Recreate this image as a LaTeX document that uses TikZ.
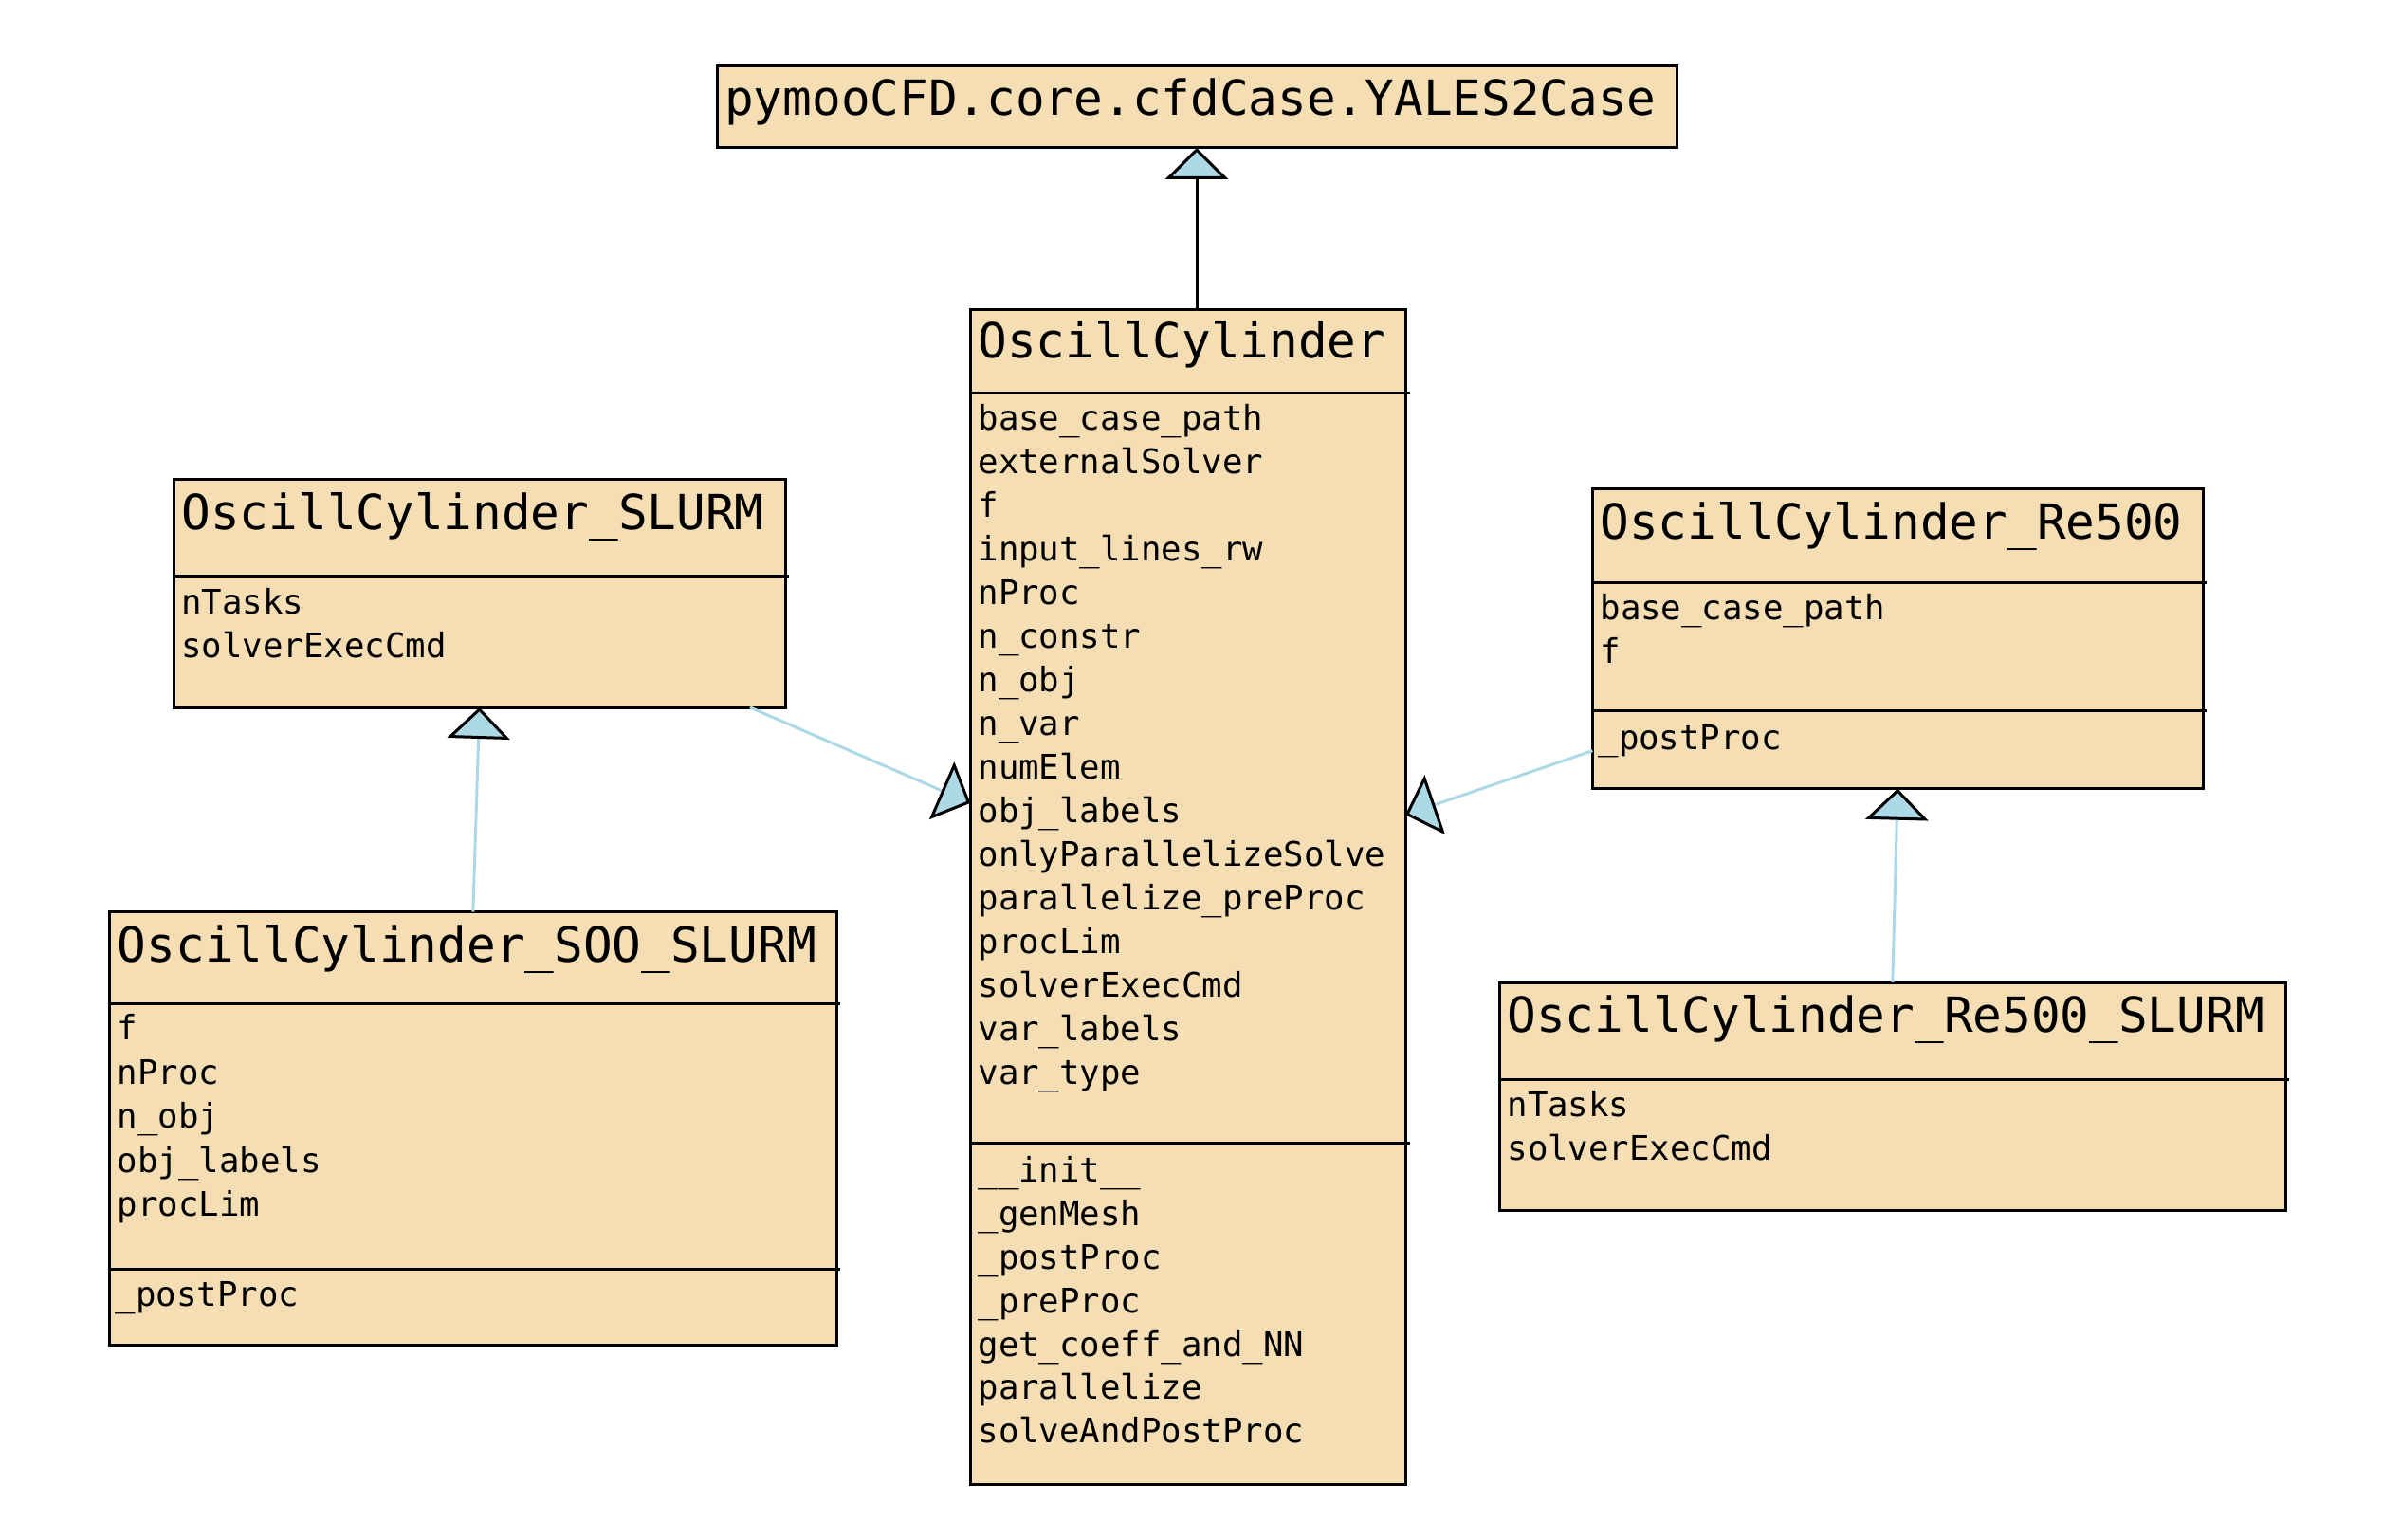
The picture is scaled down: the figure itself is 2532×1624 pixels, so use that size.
\documentclass[tikz,border=0pt]{standalone}
\usepackage{fontspec}
\setmonofont{DejaVu Sans Mono}
\usetikzlibrary{arrows.meta,calc}
\definecolor{wheatc}{HTML}{F5DEB3}
\definecolor{lblue}{HTML}{ADD8E6}
\begin{document}
\begin{tikzpicture}[x=1pt,y=-1pt,
  box/.style={draw=black, fill=wheatc, line width=3pt, rectangle, inner sep=0pt, outer sep=0pt, anchor=north west},
  ttl/.style={anchor=base west, inner sep=0pt, font=\fontsize{51}{60}\selectfont\ttfamily},
  mem/.style={anchor=base west, inner sep=0pt, font=\fontsize{35.7}{42}\selectfont\ttfamily},
  sepline/.style={draw=black, line width=3pt},
  inh/.style={-{Triangle[length=33pt,width=66pt,color=black,fill=lblue,line width=3pt]}},
  blueedge/.style={draw=lblue, line width=3pt, inh},
  blackedge/.style={draw=black, line width=3pt, inh}]
\useasboundingbox (0,0) rectangle (2532,1624);
\fill[white] (0,0) rectangle (2532,1624);

% top box
\node[box, minimum width=1012pt, minimum height=86pt] (top) at (756,70) {};
\node[ttl] (topt) at (764,121.7) {pymooCFD.core.cfdCase.YALES2Case};

% OscillCylinder
\node[box, minimum width=458.7pt, minimum height=1239.7pt] (osc) at (1023.3,326) {};
\draw[sepline] (1023.3,414) -- (1486.5,414);
\draw[sepline] (1023.3,1205.7) -- (1486.5,1205.7);
\node[ttl] (osct) at (1031.3,377.3) {OscillCylinder};
\foreach \t [count=\i from 0] in {base\_case\_path,externalSolver,f,input\_lines\_rw,nProc,n\_constr,n\_obj,n\_var,numElem,obj\_labels,onlyParallelizeSolve,parallelize\_preProc,procLim,solverExecCmd,var\_labels,var\_type}
  \node[mem] (osca\i) at (1031.3,453.3+46*\i) {\t};
\foreach \t [count=\i from 0] in {\_\_init\_\_,\_genMesh,\_postProc,\_preProc,get\_coeff\_and\_NN,parallelize,solveAndPostProc}
  \node[mem] (oscm\i) at (1031.3,1246.7+45.85*\i) {\t};

% OscillCylinder_SLURM
\node[box, minimum width=644.7pt, minimum height=240.3pt] (slurm) at (183.3,505.7) {};
\draw[sepline] (183.3,607.7) -- (831.5,607.7);
\node[ttl] (slurmt) at (191.3,558.3) {OscillCylinder\_SLURM};
\node[mem] (slurma0) at (191.3,647.3) {nTasks};
\node[mem] (slurma1) at (191.3,693.3) {solverExecCmd};

% OscillCylinder_SOO_SLURM
\node[box, minimum width=766.3pt, minimum height=456.6pt] (soo) at (115.7,961.7) {};
\draw[sepline] (115.7,1058.3) -- (886,1058.3);
\draw[sepline] (115.7,1338.3) -- (886,1338.3);
\node[ttl] (soot) at (123.7,1014.3) {OscillCylinder\_SOO\_SLURM};
\foreach \t [count=\i from 0] in {f,nProc,n\_obj,obj\_labels,procLim}
  \node[mem] (sooa\i) at (123.7,1096.7+46.5*\i) {\t};
\node[mem] (soom0) at (121.7,1377.7) {\_postProc};

% OscillCylinder_Re500
\node[box, minimum width=643.7pt, minimum height=316pt] (r5) at (1679.3,515.7) {};
\draw[sepline] (1679.3,614) -- (2327,614);
\draw[sepline] (1679.3,749.3) -- (2327,749.3);
\node[ttl] (r5t) at (1687.3,568.3) {OscillCylinder\_Re500};
\node[mem] (r5a0) at (1687.3,653.3) {base\_case\_path};
\node[mem] (r5a1) at (1687.3,699.3) {f};
\node[mem] (r5m0) at (1685.3,790) {\_postProc};

% OscillCylinder_Re500_SLURM
\node[box, minimum width=829pt, minimum height=240pt] (r5s) at (1581.3,1036) {};
\draw[sepline] (1581.3,1138) -- (2414,1138);
\node[ttl] (r5st) at (1589.3,1088.3) {OscillCylinder\_Re500\_SLURM};
\node[mem] (r5sa0) at (1589.3,1177.3) {nTasks};
\node[mem] (r5sa1) at (1589.3,1223.3) {solverExecCmd};

% connectors
\coordinate (slurmport) at ($(slurm.south west)+(607.7,0)$);
\draw[blackedge] (osc.north -| top.south) -- (top.south);
\draw[blueedge] (soo.north) -- (slurm.south);
\draw[blueedge] (r5s.north) -- (r5.south);
\draw[blueedge] (slurmport) -- ([yshift=99pt]osc.west);
\draw[blueedge] ([yshift=-118pt]r5.west) -- ([yshift=86.6pt]osc.east);
\end{tikzpicture}
\end{document}
